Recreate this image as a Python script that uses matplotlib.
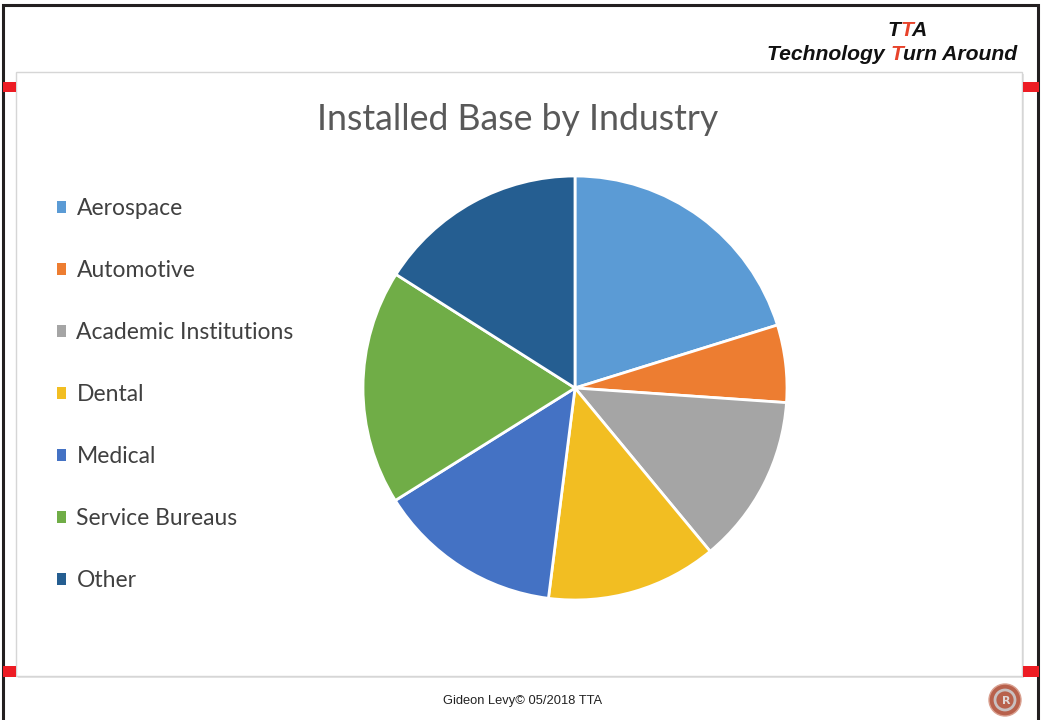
import matplotlib
matplotlib.use("Agg")
import matplotlib.pyplot as plt
from matplotlib.patches import Rectangle, Circle

categories = ["Aerospace", "Automotive", "Academic Institutions", "Dental",
              "Medical", "Service Bureaus", "Other"]
shares = [20.2, 5.9, 12.9, 13.0, 14.1, 17.9, 16.0]
colors = ["#5B9BD5", "#ED7D31", "#A5A5A5", "#F2BE22", "#4472C4", "#70AD47", "#255E91"]
title = "Installed Base by Industry"
footer = "Gideon Levy\u00a9 05/2018 TTA"
brand_top = [("T", "#111111"), ("T", "#E8432B"), ("A", "#111111")]
brand_bottom = [("Technology ", "#111111"), ("T", "#E8432B"), ("urn Around", "#111111")]

W, H = 1042, 720
fig = plt.figure(figsize=(W / 100, H / 100), dpi=100)
fig.patch.set_facecolor("white")
bg = fig.add_axes([0, 0, 1, 1])
bg.set_xlim(0, W)
bg.set_ylim(H, 0)
bg.axis("off")

# outer frame
bg.plot([3, 3, 1038, 1038], [720, 5, 5, 720], color="#231F20", lw=2.2,
        solid_joinstyle="miter", zorder=1)
# chart panel with soft shadow
bg.add_patch(Rectangle((18, 74), 1006, 604, facecolor="#E4E4E4", edgecolor="none", zorder=1))
bg.add_patch(Rectangle((16, 72), 1006, 604, facecolor="white", edgecolor="#D6D6D6", lw=1.0, zorder=2))
# red corner marks
for (x, y, w, h) in [(3, 82, 13, 10), (1023, 82, 16, 10), (3, 666, 13, 11), (1023, 666, 16, 11)]:
    bg.add_patch(Rectangle((x, y), w, h, facecolor="#ED1C24", edgecolor="none", zorder=3))

# logo
bg.add_patch(Circle((1005, 700), 16, facecolor="#B8614C", edgecolor="#D9A090", lw=1.0, zorder=3))
bg.add_patch(Circle((1005, 700), 10, facecolor="none", edgecolor="#C9C0C0", lw=2.0, zorder=4))
bg.text(1006, 701, "R", ha="center", va="center", fontsize=8, color="#E0D8D8",
        fontweight="bold", zorder=5)

# title
bg.text(518, 120, title, ha="center", va="center", fontsize=25.7, family="Lato",
        color="#595959", zorder=5)

# footer
bg.text(523, 701, footer, ha="center", va="center", fontsize=9.3,
        family="Liberation Sans", color="#222222", zorder=5)

# multicolour brand header
fig.canvas.draw()
renderer = fig.canvas.get_renderer()


def width_of(s, **kw):
    t = bg.text(0, 0, s, **kw)
    w = t.get_window_extent(renderer).width
    t.remove()
    return w


def multicolor(cx, cy, parts, **kw):
    full = "".join(p for p, _ in parts)
    total = width_of(full, **kw)
    x0 = cx - total / 2
    prefix = ""
    for s, c in parts:
        prefix += s
        off = width_of(prefix, **kw) - width_of(s.strip(), **kw) if s.strip() == s else \
            width_of(prefix.rstrip(), **kw) - width_of(s.strip(), **kw)
        bg.text(x0 + off, cy, s, color=c, ha="left", va="center", zorder=5, **kw)


hdr = dict(fontsize=15.2, family="Liberation Sans", fontweight="bold", fontstyle="italic")
multicolor(907, 30, brand_top, **hdr)
multicolor(892, 54, brand_bottom, **hdr)

# pie
pax = fig.add_axes([363 / W, 120 / H, 424 / W, 424 / H])
wedges, _ = pax.pie(shares, colors=colors, startangle=90, counterclock=False,
                    radius=1.0, wedgeprops=dict(edgecolor="white", linewidth=2.0))
pax.set_xlim(-1.0, 1.0)
pax.set_ylim(-1.0, 1.0)
pax.set_aspect("equal")
pax.axis("off")

leg = fig.legend(wedges, categories, loc="upper left",
                 bbox_to_anchor=(57 / W, 1 - 198 / H), frameon=False,
                 prop=dict(family="Lato", size=16.5), labelcolor="#404040",
                 handlelength=0.4, handleheight=0.4, handletextpad=0.45,
                 labelspacing=1.79, borderaxespad=0, borderpad=0)
for h in leg.legend_handles:
    h.set_edgecolor("none")

fig.savefig("out.png", dpi=100)
